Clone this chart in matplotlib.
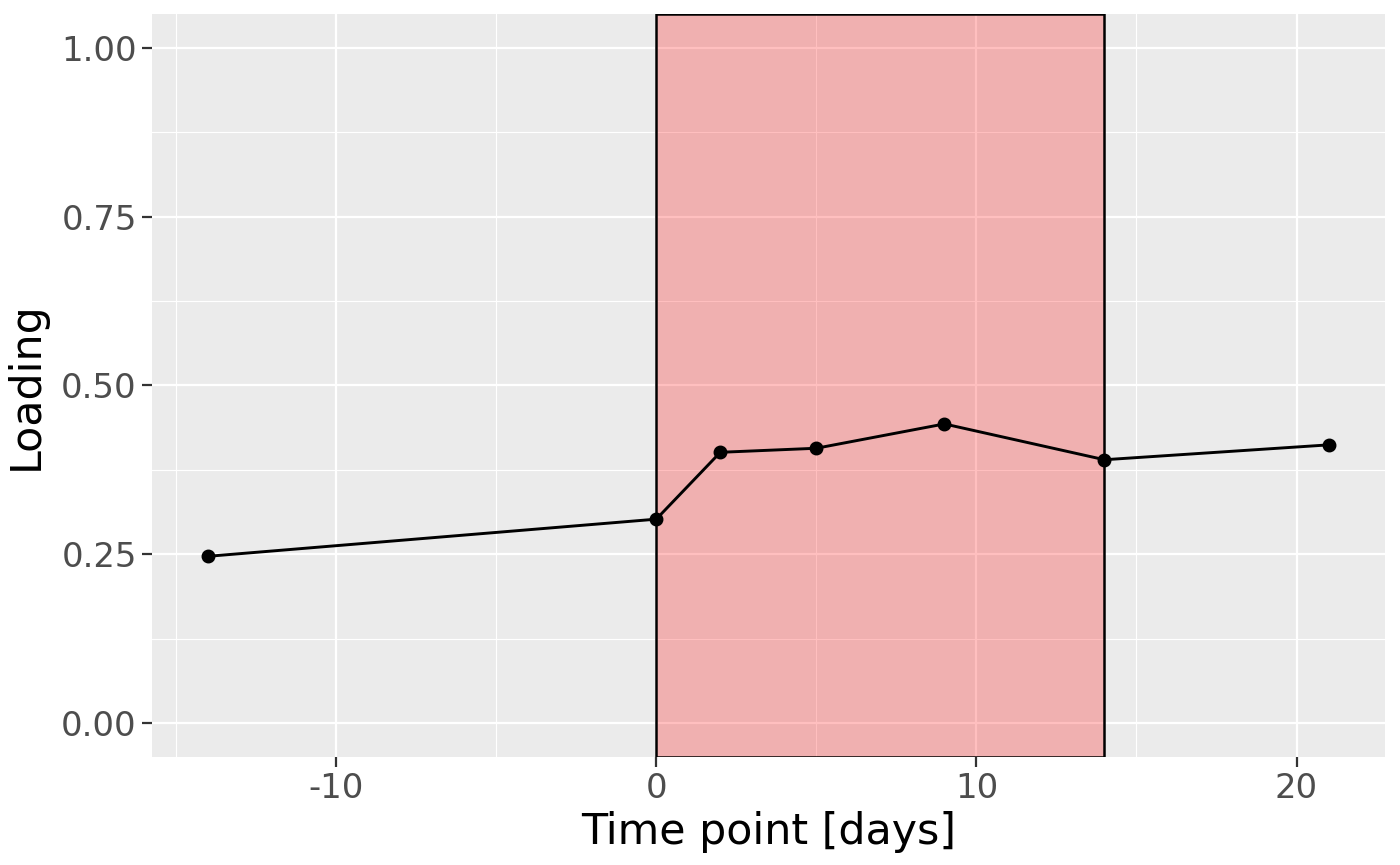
import matplotlib
matplotlib.use("Agg")
import matplotlib.pyplot as plt
from matplotlib.ticker import MultipleLocator

plt.rcParams["axes.unicode_minus"] = False

# data
days = [-14, 0, 2, 5, 9, 14, 21]
loading = [0.247, 0.302, 0.401, 0.407, 0.443, 0.390, 0.412]
window_start, window_end = 0, 14
xticks = [-10, 0, 10, 20]
yticks = [0.00, 0.25, 0.50, 0.75, 1.00]
ytick_labels = ["0.00", "0.25", "0.50", "0.75", "1.00"]

fig = plt.figure(figsize=(7, 4.325), dpi=200)
ax = fig.add_axes([0.1086, 0.125, 0.989 - 0.1086, 0.9838 - 0.125])
ax.set_facecolor("#EBEBEB")
for s in ax.spines.values():
    s.set_visible(False)

ax.set_xlim(-15.75, 22.75)
ax.set_ylim(-0.05, 1.05)
ax.set_xticks(xticks)
ax.set_yticks(yticks)
ax.set_yticklabels(ytick_labels)
ax.xaxis.set_minor_locator(MultipleLocator(5))
ax.yaxis.set_minor_locator(MultipleLocator(0.125))
ax.grid(which="major", color="white", linewidth=0.8)
ax.grid(which="minor", color="white", linewidth=0.4)
ax.set_axisbelow(True)
ax.tick_params(which="major", length=3.5, width=0.8, color="#333333",
               labelcolor="#4D4D4D", labelsize=12.2, pad=2)
ax.tick_params(which="minor", length=0)

# shaded window
ax.axvspan(window_start, window_end, facecolor=(1, 0, 0, 0.25),
           edgecolor="black", linewidth=0.9, zorder=2)

ax.plot(days, loading, color="black", linewidth=1.05, marker="o",
        markersize=4.0, zorder=3)

ax.set_xlabel("Time point [days]", fontsize=15.4, labelpad=2)
ax.set_ylabel("Loading", fontsize=15.4, labelpad=5)

fig.savefig("out.png", dpi=200)
